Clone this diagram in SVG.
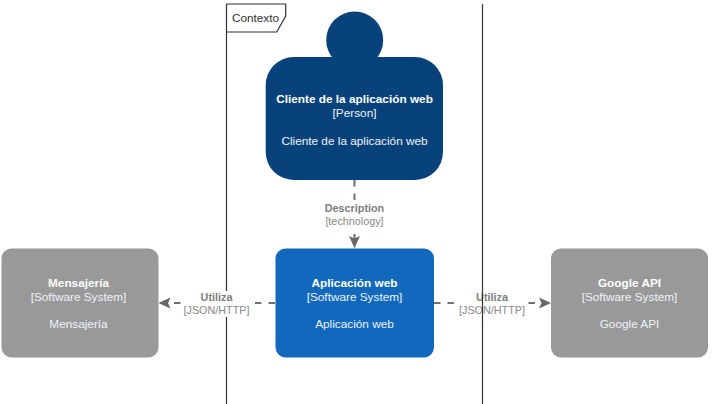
<svg xmlns="http://www.w3.org/2000/svg" width="712" height="404" viewBox="0 0 712 404">
<style>
text{font-family:"Liberation Sans",Arial,sans-serif;text-anchor:middle}
.n{font-size:11.8px;fill:#eef3f9}
.b{font-weight:bold;fill:#fff}
.frame{fill:none;stroke:#333;stroke-width:1.2}
.c{fill:none;stroke:#707070;stroke-width:2;stroke-dasharray:6.5 7}
.l{font-size:10.8px;fill:#8a8a8a}
.lb{font-weight:bold;fill:#7c7c7c}
.g{fill:#999}
</style>
<defs>
<marker id="a" viewBox="0 0 12 12" refX="12" refY="6" markerWidth="12" markerHeight="12" markerUnits="userSpaceOnUse" orient="auto"><path d="M0 0.500L12 6L0 11.500L2.500 6Z" fill="#666"/></marker>
</defs>
<g id="frame-left">
<path class="frame" d="M226.500 4V404"/>
<path class="frame" d="M226.500 4H285.700V16L276.700 32H226.500"/>
<text x="255.500" y="22" fill="#333" style="font-size:11.800px">Contexto</text>
</g>
<g id="connectors">
<path class="c" d="M354.500 180V248" marker-end="url(#a)"/>
<path class="c" d="M275 303H158.500" marker-end="url(#a)"/>
<path class="c" d="M434 303H551" marker-end="url(#a)"/>
<rect x="323" y="202" width="63" height="26" fill="#fff"/>
<text class="l lb" x="354.500" y="212">Description</text>
<text class="l" x="354.500" y="225">[technology]</text>
<rect x="183" y="291" width="67" height="26" fill="#fff"/>
<text class="l lb" x="216.500" y="300.500">Utiliza</text>
<text class="l" x="216.500" y="313.500">[JSON/HTTP]</text>
<rect x="459" y="291" width="67" height="26" fill="#fff"/>
<text class="l lb" x="492" y="300.500">Utiliza</text>
<text class="l" x="492" y="313.500">[JSON/HTTP]</text>
</g>
<g id="frame-right"><path class="frame" d="M482.500 4V404"/></g>
<g id="cliente">
<circle cx="354.700" cy="40" r="28.500" fill="#08427b"/>
<rect x="265.700" y="57" width="177.300" height="123" rx="28" fill="#08427b"/>
<text class="n b" x="354.500" y="103">Cliente de la aplicación web</text>
<text class="n" x="354.500" y="117">[Person]</text>
<text class="n" x="354.500" y="144.500">Cliente de la aplicación web</text>
</g>
<g id="aplicacion">
<rect x="275.500" y="248.500" width="158.500" height="109" rx="10" fill="#1168bd"/>
<text class="n b" x="354.500" y="287">Aplicación web</text>
<text class="n" x="354.500" y="301">[Software System]</text>
<text class="n" x="354.500" y="328">Aplicación web</text>
</g>
<g id="mensajeria">
<rect class="g" x="1.500" y="248.500" width="157" height="109" rx="10"/>
<text class="n b" x="78.500" y="287">Mensajería</text>
<text class="n" x="78.500" y="301">[Software System]</text>
<text class="n" x="78.500" y="328">Mensajería</text>
</g>
<g id="google">
<rect class="g" x="551" y="248.500" width="157" height="109" rx="10"/>
<text class="n b" x="629.500" y="287">Google API</text>
<text class="n" x="629.500" y="301">[Software System]</text>
<text class="n" x="629.500" y="328">Google API</text>
</g>
</svg>
